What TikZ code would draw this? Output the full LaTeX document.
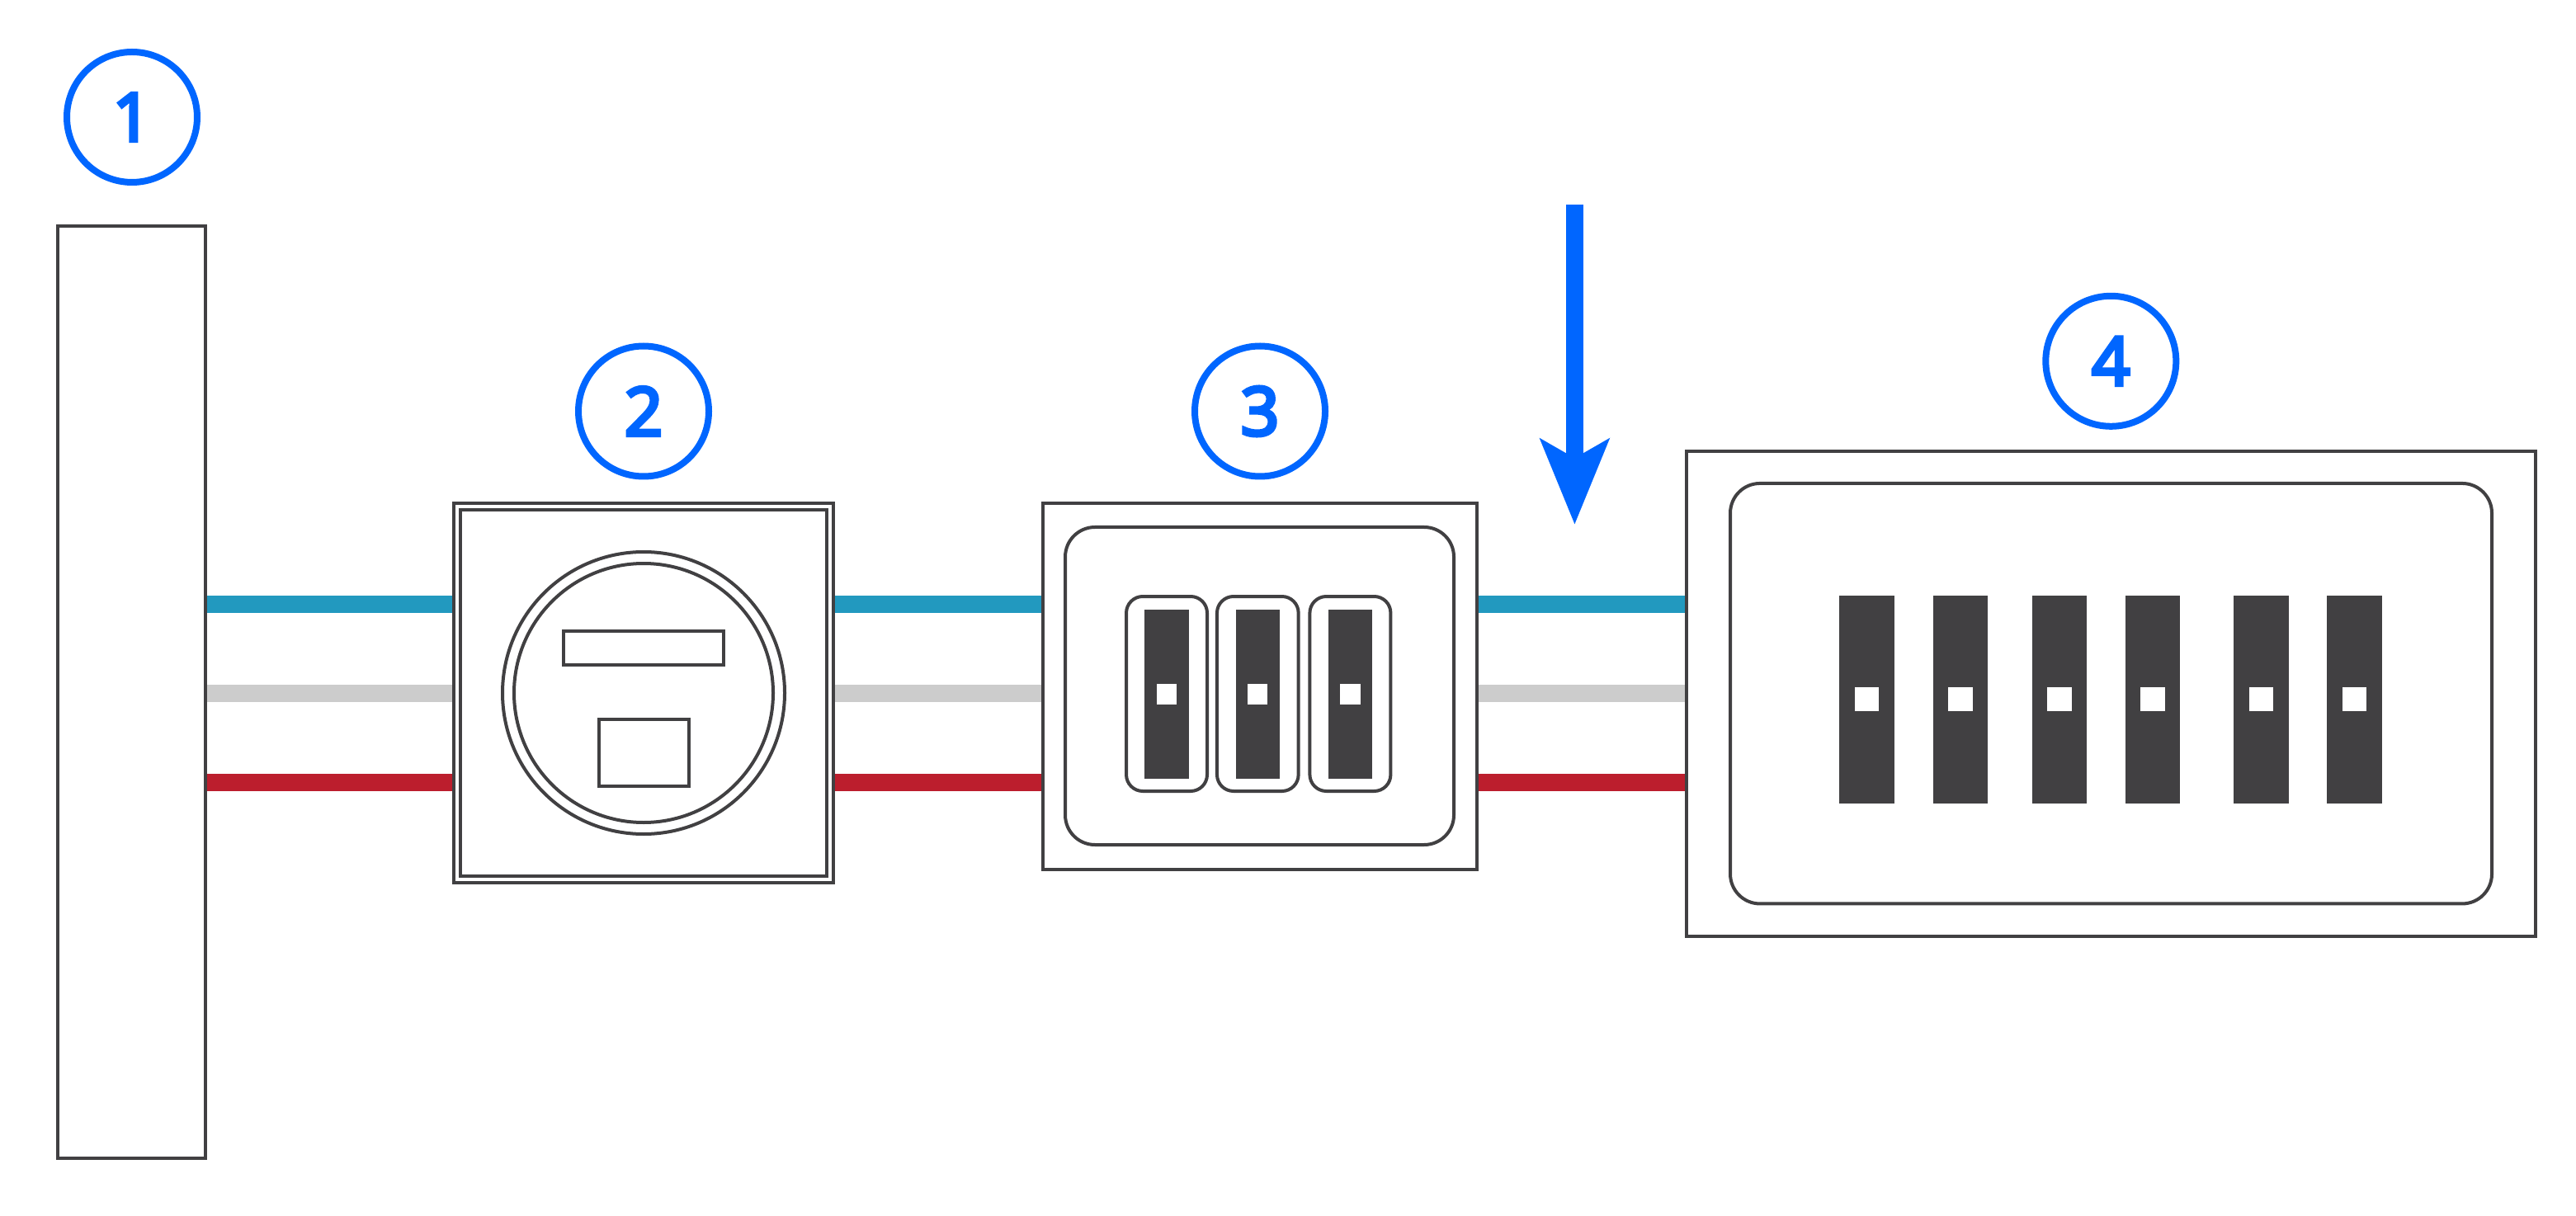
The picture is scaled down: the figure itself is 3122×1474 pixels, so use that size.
\documentclass[tikz,border=0pt]{standalone}
\usepackage{fontspec}
\setmainfont{Open Sans}
\newfontfamily\badgefont{Open Sans}[FakeBold=5.5]
\definecolor{ink}{HTML}{414042}
\definecolor{accent}{HTML}{0066FF}
\definecolor{wireb}{HTML}{2299BF}
\definecolor{wireg}{HTML}{CCCCCC}
\definecolor{wirer}{HTML}{BC1E2D}
\tikzset{
  sz/.style 2 args={minimum width=#1*0.25pt,minimum height=#2*0.25pt},
  basebox/.style={draw=ink,line width=1pt,inner sep=0pt,rectangle},
  roundbox/.style={basebox,rounded corners=9pt},
  tabbox/.style={basebox,rounded corners=5pt},
  ringshape/.style={draw=ink,line width=1pt,circle,inner sep=0pt,minimum size=#1*0.25pt},
  bar/.style={fill=ink,rectangle,inner sep=0pt,outer sep=0pt},
  slot/.style={fill=white,rectangle,inner sep=0pt,outer sep=0pt},
  badge/.style={draw=accent,line width=2pt,circle,inner sep=0pt,minimum size=158*0.25pt,
    text=accent,font=\fontsize{20.3}{20.3}\badgefont},
  wire/.style={line width=5.25pt,line cap=butt},
  pointer/.style={draw=accent,line width=5.2pt,line cap=butt,shorten >=20pt},
  pointerhead/.style={fill=accent}
}
\begin{document}
\begin{tikzpicture}[x=0.25pt,y=-0.25pt]
\useasboundingbox (0,0) rectangle (3122,1474);
% levels of the three wires
\coordinate (lvB) at (0,732);
\coordinate (lvG) at (0,840);
\coordinate (lvR) at (0,948);
% badges
\node[badge] (b1) at (160,142) {1};
\node[badge] (b2) at (780,498.5) {2};
\node[badge] (b3) at (1527,498.5) {3};
\node[badge] (b4) at (2558.3,437.8) {4};
% unit 1
\node[basebox,sz={179}{1130}] (u1) at (159.5,839) {};
% unit 2
\node[basebox,sz={460}{460}] (u2) at (780,840) {};
\node[basebox,sz={444}{444}] (u2i) at (780,840) {};
\node[ringshape=342] (u2r) at (780,840) {};
\node[ringshape=314] (u2q) at (780,840) {};
\node[basebox,sz={194}{41}] (u2a) at (780,785.5) {};
\node[basebox,sz={109}{81}] (u2b) at (780,912.5) {};
% unit 3
\node[basebox,sz={525.5}{444}] (u3) at (1527,832) {};
\node[roundbox,sz={471}{385}] (u3i) at (1526.5,831.5) {};
\node[tabbox,sz={98}{236}] (t1) at (1414,841) {};
\node[tabbox,sz={98.7}{236}] (t2) at (1524.3,841) {};
\node[tabbox,sz={98}{236}] (t3) at (1636.4,841) {};
\node[bar,sz={53.6}{205}] (d1) at (1413.9,841.3) {};
\node[bar,sz={53.6}{205}] (d2) at (1524.3,841.3) {};
\node[bar,sz={53.6}{205}] (d3) at (1636.5,841.3) {};
\node[slot,sz={24.3}{24.6}] (h1) at (1413.9,841.3) {};
\node[slot,sz={24.3}{24.6}] (h2) at (1524.3,841.3) {};
\node[slot,sz={24.3}{24.6}] (h3) at (1636.5,841.3) {};
% unit 4
\node[basebox,sz={1028.5}{587}] (u4) at (2558.2,841) {};
\node[roundbox,sz={923}{509.5}] (u4i) at (2558.5,840.7) {};
\node[bar,sz={66.6}{252}] (p1) at (2262.5,847.5) {};
\node[bar,sz={66.6}{252}] (p2) at (2376,847.5) {};
\node[bar,sz={66.6}{252}] (p3) at (2495.8,847.5) {};
\node[bar,sz={66.6}{252}] (p4) at (2609,847.5) {};
\node[bar,sz={66.6}{252}] (p5) at (2740.5,847.5) {};
\node[bar,sz={66.6}{252}] (p6) at (2853.6,847.5) {};
\node[slot,sz={29.6}{29.4}] (q1) at (2262.5,847.7) {};
\node[slot,sz={29.6}{29.4}] (q2) at (2376,847.7) {};
\node[slot,sz={29.6}{29.4}] (q3) at (2495.8,847.7) {};
\node[slot,sz={29.6}{29.4}] (q4) at (2609,847.7) {};
\node[slot,sz={29.6}{29.4}] (q5) at (2740.5,847.7) {};
\node[slot,sz={29.6}{29.4}] (q6) at (2853.6,847.7) {};
% wires
\draw[wire,wireb] (u1.east |- lvB) -- (u2.west |- lvB);
\draw[wire,wireg] (u1.east |- lvG) -- (u2.west |- lvG);
\draw[wire,wirer] (u1.east |- lvR) -- (u2.west |- lvR);
\draw[wire,wireb] (u2.east |- lvB) -- (u3.west |- lvB);
\draw[wire,wireg] (u2.east |- lvG) -- (u3.west |- lvG);
\draw[wire,wirer] (u2.east |- lvR) -- (u3.west |- lvR);
\draw[wire,wireb] (u3.east |- lvB) -- (u4.west |- lvB);
\draw[wire,wireg] (u3.east |- lvG) -- (u4.west |- lvG);
\draw[wire,wirer] (u3.east |- lvR) -- (u4.west |- lvR);
% pointer
\coordinate (ptrA) at (1908.4,248);
\coordinate (ptrB) at (1908.4,635.3);
\draw[pointer] (ptrA) -- (ptrB);
\fill[pointerhead] (ptrB) -- ++(-42.85,-104.6) -- ++(42.85,24.6) -- ++(42.85,-24.6) -- cycle;
\end{tikzpicture}
\end{document}
